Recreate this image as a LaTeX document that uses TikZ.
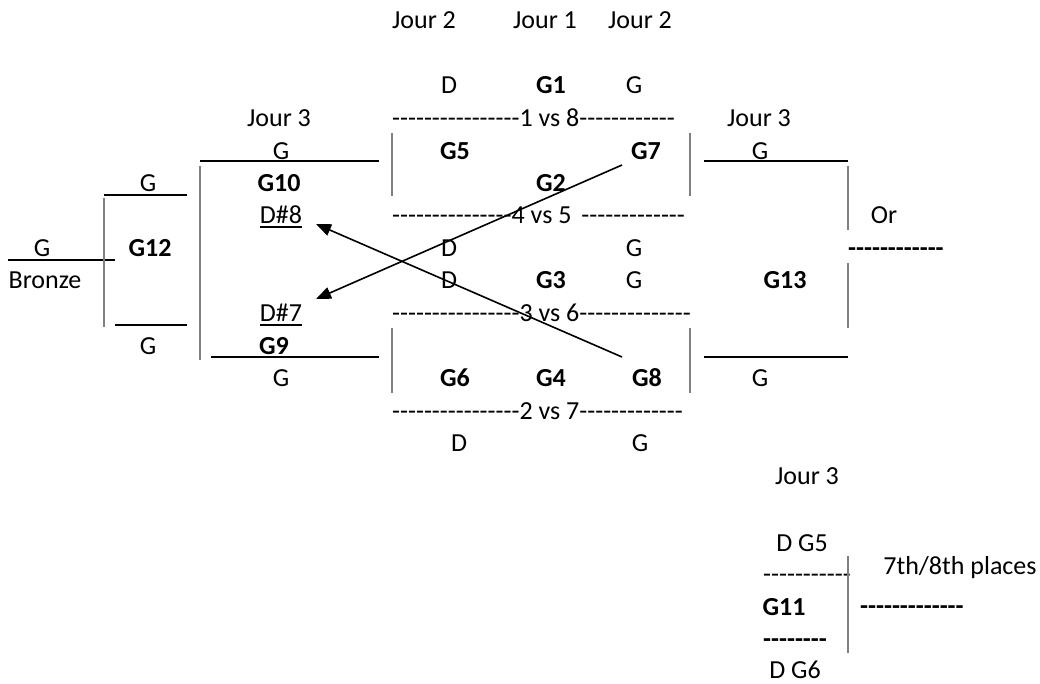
\documentclass[tikz,border=0pt]{standalone}
\usepackage{fontspec}
\newfontfamily\calfont{Carlito}
\usetikzlibrary{arrows.meta}
\tikzset{
  txt/.style={inner sep=0pt, anchor=base, font=\calfont\fontsize{26pt}{32pt}\selectfont},
  btxt/.style={txt, font=\calfont\fontsize{26pt}{32pt}\selectfont\bfseries},
  dtxt/.style={txt, anchor=base west},
  bdtxt/.style={btxt, anchor=base west},
  hline/.style={line width=2pt, black},
  vline/.style={line width=1.3pt, black!50},
  arr/.style={line width=1.6pt, -{Triangle[length=15pt,width=12pt]}},
  uline/.style={line width=1.5pt}
}
\begin{document}
\begin{tikzpicture}[x=1pt,y=-1pt]
\useasboundingbox (0,0) rectangle (1040,683);
% ---- header
\node[txt] (j2a) at (424,28.5) {Jour 2};
\node[txt] (j1)  at (545,28.5) {Jour 1};
\node[txt] (j2b) at (640,28.5) {Jour 2};
% ---- row 85
\node[txt]  (d1)  at (449,93.5) {D};
\node[btxt] (g1)  at (551,93.5) {G1};
\node[txt]  (g1r) at (634,93.5) {G};
% ---- row 118
\node[dtxt] (v18) at (392,126.5) {----------------1 vs 8------------};
\node[txt]  (j3l) at (279,126.5) {Jour 3};
\node[txt]  (j3r) at (759,126.5) {Jour 3};
% ---- row 151
\node[txt]  (g10t) at (281,159.5) {G};
\node[btxt] (g5)   at (455,159.5) {G5};
\node[btxt] (g7)   at (646,159.5) {G7};
\node[txt]  (g13t) at (760,159.5) {G};
% ---- row 183
\node[txt]  (g12t) at (148,191.5) {G};
\node[btxt] (g10)  at (279,191.5) {G10};
\node[btxt] (g2)   at (551,191.5) {G2};
% ---- row 215
\node[txt]  (d8)  at (281,223.5) {D\#8};
\node[dtxt] (v45) at (392,223.5) {---------------4 vs 5\hspace{10pt}-------------};
\node[txt]  (or)  at (884,223.5) {Or};
% ---- row 248
\node[txt]  (gbr)  at (42,256.5)  {G};
\node[btxt] (g12)  at (150,256.5) {G12};
\node[txt]  (d2)   at (449,256.5) {D};
\node[txt]  (g2r)  at (634,256.5) {G};
\node[bdtxt] (ord) at (848,256) {------------};
% ---- row 280
\node[txt]  (bronze) at (45,288.5)  {Bronze};
\node[txt]  (d3)     at (449,288.5) {D};
\node[btxt] (g3)     at (551,288.5) {G3};
\node[txt]  (g3r)    at (634,288.5) {G};
\node[btxt] (g13)    at (785,288.5) {G13};
% ---- row 313
\node[txt]  (d7)  at (281,321.5) {D\#7};
\node[dtxt] (v36) at (392,321.5) {----------------3 vs 6--------------};
% ---- row 346
\node[txt]  (g12b) at (148,354.5) {G};
\node[btxt] (g9)   at (274,354.5) {G9};
% ---- row 378
\node[txt]  (g10b) at (281,386.5) {G};
\node[btxt] (g6)   at (455,386.5) {G6};
\node[btxt] (g4)   at (551,386.5) {G4};
\node[btxt] (g8)   at (647,386.5) {G8};
\node[txt]  (g13b) at (760,386.5) {G};
% ---- row 411
\node[dtxt] (v27) at (392,419.5) {----------------2 vs 7-------------};
% ---- row 443
\node[txt] (d4)  at (459,451.5) {D};
\node[txt] (g4r) at (640,451.5) {G};
% ---- bottom right
\node[txt]  (j3b)  at (807,484.5) {Jour 3};
\node[txt]  (dg5)  at (802,551.5) {D G5};
\node[dtxt] (g11d) at (763,582)   {-----------};
\node[txt]  (pl78) at (960,574.5) {7th/8th places};
\node[btxt] (g11)  at (784,615.5) {G11};
\node[bdtxt] (g11r) at (860,614)  {-------------};
\node[bdtxt] (g11u) at (763,647)  {--------};
\node[txt]  (dg6)  at (795,678) {D G6};
% ---- underlines
\draw[uline] ([yshift=-3.5pt]d8.base west) -- ([yshift=-3.5pt]d8.base east);
\draw[uline] ([yshift=-3.5pt]d7.base west) -- ([yshift=-3.5pt]d7.base east);
% ---- bracket lines (horizontal)
\draw[hline] (8,260) -- (115,260);
\draw[hline] (104,195) -- (187,195);
\draw[hline] (115,325) -- (187,325);
\draw[hline] (200,161) -- (379,161);
\draw[hline] (211,357) -- (379,357);
\draw[hline] (704,161) -- (848,161);
\draw[hline] (704,357) -- (848,357);
% ---- vertical grey lines
\draw[vline] (104,198) -- (104,327);
\draw[vline] (200,166) -- (200,360);
\draw[vline] (392,133) -- (392,196);
\draw[vline] (690,133) -- (690,196);
\draw[vline] (392,328) -- (392,393);
\draw[vline] (690,328) -- (690,393);
\draw[vline] (848,166) -- (848,230);
\draw[vline] (848,263) -- (848,328);
\draw[vline] (848,556) -- (848,653);
% ---- arrows
\coordinate (a7s) at (622,165);
\coordinate (a7e) at (316,299);
\coordinate (a8s) at (622,357);
\coordinate (a8e) at (316,224);
\draw[arr] (a7s) -- (a7e);
\draw[arr] (a8s) -- (a8e);
\end{tikzpicture}
\end{document}
